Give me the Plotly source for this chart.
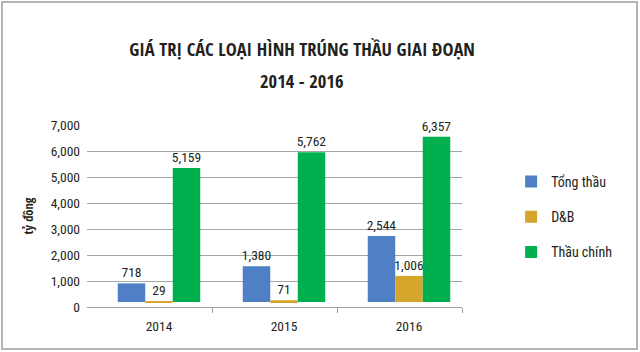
import plotly.graph_objects as go

years = ["2014", "2015", "2016"]
series_names = ["Tổng thầu", "D&B", "Thầu chính"]
tong_thau = [718, 1380, 2544]
db = [29, 71, 1006]
thau_chinh = [5159, 5762, 6357]
colors = ["#4F80C5", "#D6A52C", "#00B04E"]
y_ticks = [0, 1000, 2000, 3000, 4000, 5000, 6000, 7000]
y_ticktext = ["0", "1,000", "2,000", "3,000", "4,000", "5,000", "6,000", "7,000"]
bar_base = 190

FONT = "Roboto Condensed, Open Sans Condensed, sans-serif"
BOLD = "Open Sans Condensed, Roboto Condensed, sans-serif"
TXT = "#231F20"

fig = go.Figure()
for name, vals, col in zip(series_names, [tong_thau, db, thau_chinh], colors):
    fig.add_trace(go.Bar(
        x=years, y=vals, base=bar_base, name=name, marker_color=col,
        marker_line_width=0,
        text=[f"{v:,}" for v in vals], textposition="outside",
        constraintext="none",
        textfont=dict(family=FONT, size=13.5, color=TXT),
        cliponaxis=False, legendgroup=name,
    ))

# helper (invisible) trace so the tick-mark axis gets drawn
fig.add_trace(go.Scatter(x=[0, 3], y=[0, 0], xaxis="x2", yaxis="y", mode="none",
                         showlegend=False, hoverinfo="skip"))

W, H = 640, 352
L, R, T, B = 87, 178, 125, 45
pw, ph = W - L - R, H - T - B
x_shift = 0.576  # bars sit a little right of the axis tick marks

fig.update_layout(
    width=W, height=H,
    margin=dict(l=L, r=R, t=T, b=B),
    paper_bgcolor="white", plot_bgcolor="white",
    barmode="group", bargap=0.34, bargroupgap=0,
    font=dict(family=FONT, color=TXT, size=13),
    title=dict(
        text="<b>GIÁ TRỊ CÁC LOẠI HÌNH TRÚNG THẦU GIAI ĐOẠN</b>",
        x=0.472, xanchor="center", xref="container",
        y=1 - 50 / H, yanchor="middle", yref="container",
        font=dict(family=BOLD, size=18.5, color=TXT),
    ),
    annotations=[dict(
        text="<b>2014 - 2016</b>", xref="paper", yref="paper",
        x=(0.472 * W - L) / pw, y=(H - B - 80) / ph,
        xanchor="center", yanchor="middle", showarrow=False,
        font=dict(family=BOLD, size=18.5, color=TXT),
    )],
    showlegend=True,
    legend=dict(
        x=1.131, y=0.775, xanchor="left", yanchor="top",
        font=dict(family=FONT, size=14, color=TXT),
        tracegroupgap=14, itemclick=False, bgcolor="rgba(0,0,0,0)",
    ),
    xaxis=dict(
        type="category", range=[-x_shift, 3 - x_shift],
        showline=False, ticks="", showgrid=False,
        ticklabelstandoff=9,
        tickfont=dict(family=FONT, size=13.5, color=TXT),
    ),
    xaxis2=dict(
        overlaying="x", side="bottom", range=[0, 3],
        tickvals=[1, 2, 3], showticklabels=False,
        showline=True, linecolor="#9E9E9E", linewidth=1,
        ticks="outside", ticklen=5, tickcolor="#9E9E9E",
        showgrid=False, zeroline=False,
    ),
    yaxis=dict(
        range=[0, 7000], tickvals=y_ticks, ticktext=y_ticktext,
        showgrid=True, gridcolor="#A6A6A6", gridwidth=1,
        zeroline=False, showline=False, ticks="",
        ticklabelstandoff=6,
        tickfont=dict(family=FONT, size=13.5, color=TXT),
        title=dict(text="<b>tỷ đồng</b>", standoff=14,
                   font=dict(family=BOLD, size=12.5, color=TXT)),
    ),
    shapes=[dict(
        type="rect", xref="paper", yref="paper",
        x0=(2 - L) / pw, x1=(637 - L) / pw,
        y0=-(B - 3) / ph, y1=(H - B - 2) / ph,
        line=dict(color="#B4B4B4", width=2), fillcolor="rgba(0,0,0,0)", layer="above",
    )],
)

fig.write_html("out.html")
